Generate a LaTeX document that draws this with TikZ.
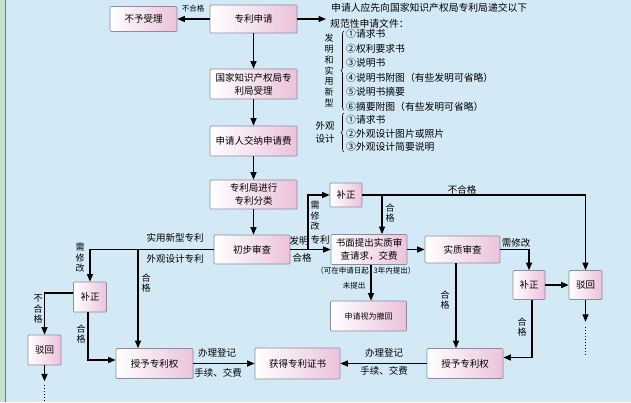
\documentclass[tikz,border=0pt]{standalone}
\usepackage{fontspec}
\newfontfamily\cjk{Noto Sans CJK SC}
\usetikzlibrary{arrows.meta,decorations.pathreplacing}
\definecolor{bg}{HTML}{D3EAF6}
\definecolor{strip}{HTML}{C6E2CC}
\definecolor{stripline}{HTML}{4A86C5}
\definecolor{boxpink}{HTML}{EBC2DB}
\definecolor{boxline}{HTML}{8C8C9C}
\tikzset{
  box/.style={draw=boxline, line width=0.7pt, rounded corners=1pt, left color=white, right color=boxpink,
    inner sep=0pt, align=center, font=\cjk\fontsize{9.5}{13}\selectfont},
  lab/.style={inner sep=0pt, align=center, font=\cjk\fontsize{9.5}{12}\selectfont},
  vlab/.style={inner sep=0pt, align=center, font=\cjk\fontsize{9}{10.5}\selectfont},
  small/.style={inner sep=0pt, align=center, font=\cjk\fontsize{7.5}{9}\selectfont},
  doc/.style={inner sep=0pt, anchor=west, font=\cjk\fontsize{9.8}{12}\selectfont},
  arr/.style={line width=1.2pt, -{Triangle[length=7.5pt,width=6pt]}},
  dotln/.style={line width=1pt, dotted},
  bracel/.style={decorate, decoration={brace,amplitude=3pt}, line width=0.6pt}
}
\begin{document}
\begin{tikzpicture}[x=1pt,y=-1pt]
\useasboundingbox (0,0) rectangle (631,402);
\fill[bg] (0,0) rectangle (631,402);
\fill[strip] (0,0) rectangle (4.5,402);
\draw[stripline, line width=1pt] (5,0) -- (5,402);

% main column
\node[box, minimum width=67pt, minimum height=25pt] (rej0top) at (143.5,19) {不予受理};
\node[box, minimum width=87pt, minimum height=28pt] (apply) at (253.5,19) {专利申请};
\node[box, minimum width=87pt, minimum height=30pt] (accept) at (253.5,84) {国家知识产权局专\\利局受理};
\node[box, minimum width=87pt, minimum height=30pt] (fee) at (253.5,141) {申请人交纳申请费};
\node[box, minimum width=87pt, minimum height=29pt] (classify) at (253.5,194.5) {专利局进行\\专利分类};
\node[box, minimum width=76pt, minimum height=29pt] (prelim) at (252,249.5) {初步审查};

% middle / right
\node[box, minimum width=32pt, minimum height=24pt] (fix1) at (346,195) {补正};
\node[box, minimum width=76pt, minimum height=30pt] (req) at (369,249.5) {书面提出实质审\\查请求，交费};
\node[box, minimum width=75pt, minimum height=27pt] (subst) at (462.5,249.5) {实质审查};
\node[box, minimum width=32pt, minimum height=29pt] (fix2) at (529,285) {补正};
\node[box, minimum width=33pt, minimum height=29pt] (rej2) at (585.5,285) {驳回};
\node[box, minimum width=76pt, minimum height=30pt, font=\cjk\fontsize{8}{10}\selectfont] (withdraw) at (368.5,316) {申请视为撤回};
\node[box, minimum width=76pt, minimum height=30pt] (grant2) at (465,363.5) {授予专利权};
\node[box, minimum width=85pt, minimum height=31pt] (cert) at (297.5,363.5) {获得专利证书};

% left
\node[box, minimum width=77pt, minimum height=30pt] (grant1) at (154.5,363.5) {授予专利权};
\node[box, minimum width=33pt, minimum height=30pt] (fix0) at (90,297) {补正};
\node[box, minimum width=33pt, minimum height=30pt] (rej0) at (44.5,350) {驳回};

% top connectors
\coordinate (docs) at (326,19);
\draw[arr] (apply) -- (rej0top);
\draw[arr] (apply.east) -- (docs);
\draw[arr] (apply) -- (accept);
\draw[arr] (accept) -- (fee);
\draw[arr] (fee) -- (classify);
\draw[arr] (classify.south) -- (classify.south |- prelim.north);

% left branch
\coordinate (jL) at (138,249.5);
\draw[arr] (prelim.west) -| (fix0.north);
\draw[arr] (jL) -- (jL |- grant1.north);
\draw[arr] ([yshift=4pt]fix0.west) -| (rej0.north);
\draw[arr] ([xshift=-2pt]fix0.south) |- ([yshift=3.5pt]grant1.west);
\draw[arr] (rej0.south) -- ++(0,16) coordinate (rej0end);
\draw[dotln] ([yshift=-4pt]rej0end) -- (44.5,402);
\draw[arr] (grant1) -- (cert);
\draw[arr] (grant2) -- (cert);

% middle branch
\coordinate (jM) at (308,249.5);
\coordinate (jF) at (382,195);
\draw[arr] (prelim) -- (req);
\draw[arr] (jM) |- (fix1.west);
\draw[arr] (fix1.east) -| (rej2.north);
\draw[arr] (jF) -- (jF |- req.north);
\draw[arr] (req) -- (subst);
\draw[arr] ([xshift=2pt]req.south) -- ([xshift=2pt]req.south |- withdraw.north);
\draw[arr] ([xshift=-6.5pt]subst.south) -- ([xshift=-6.5pt]subst.south |- grant2.north);
\draw[arr] (subst.east) -| (fix2.north);
\draw[arr] (fix2) -- (rej2);
\draw[arr] ([xshift=3pt]fix2.south) |- ([yshift=6pt]grant2.east);
\draw[arr] (rej2.south) -- ++(0,22) coordinate (rej2end);
\draw[dotln] ([yshift=-5pt]rej2end) -- ++(0,28);

% labels
\node[small] (l1) at (193,9) {不合格};
\node[lab] (l2) at (175,238) {实用新型专利};
\node[lab] (l3) at (175,259) {外观设计专利};
\node[vlab] (l4) at (80,258) {需\\修\\改};
\node[vlab] (l5) at (146,283) {合\\格};
\node[vlab] (l6) at (38,309) {不\\合\\格};
\node[vlab] (l7) at (81,334) {合\\格};
\node[lab] (l8) at (217,353) {办理登记};
\node[lab] (l9) at (218,373) {手续、交费};
\node[lab] (l10) at (384,353) {办理登记};
\node[lab] (l11) at (384,371) {手续、交费};
\node[lab] (l12) at (299,241) {发明};
\node[lab] (l13) at (320,240) {专利};
\node[lab] (l14) at (302,258) {合格};
\node[vlab] (l15) at (315,216) {需\\修\\改};
\node[vlab] (l16) at (390,213) {合\\格};
\node[lab] (l17) at (462,190) {不合格};
\node[lab] (l18) at (516,243) {需修改};
\node[small, anchor=east] (l19) at (369,270.5) {（可在申请日起};
\node[small, anchor=west] (l20) at (373.5,270.5) {3年内提出）};
\node[small] (l21) at (354,285.5) {未提出};
\node[vlab] (l22) at (445,300) {合\\格};
\node[vlab] (l23) at (522,327) {合\\格};

% document list
\node[doc] (t1) at (331,8) {申请人应先向国家知识产权局专利局递交以下};
\node[doc] (t2) at (330,24) {规范性申请文件：};
\node[inner sep=0pt, align=center, font=\cjk\fontsize{9}{10.8}\selectfont] (t3) at (329,70.5) {发\\明\\和\\实\\用\\新\\型};
\draw[bracel] (344,110) -- (344,31);
\node[doc] (d1) at (346,34) {①请求书};
\node[doc] (d2) at (346,48.5) {②权利要求书};
\node[doc] (d3) at (346,63) {③说明书};
\node[doc] (d4) at (346,77.5) {④说明书附图（有些发明可省略）};
\node[doc] (d5) at (346,92) {⑤说明书摘要};
\node[doc] (d6) at (346,106.5) {⑥摘要附图（有些发明可省略）};
\node[lab] (t4) at (325,125.5) {外观};
\node[lab] (t5) at (325,138.5) {设计};
\draw[bracel] (344,152) -- (344,113);
\node[doc] (e1) at (346,119.5) {①请求书};
\node[doc] (e2) at (346,133.5) {②外观设计图片或照片};
\node[doc] (e3) at (346,147) {③外观设计简要说明};
\end{tikzpicture}
\end{document}
